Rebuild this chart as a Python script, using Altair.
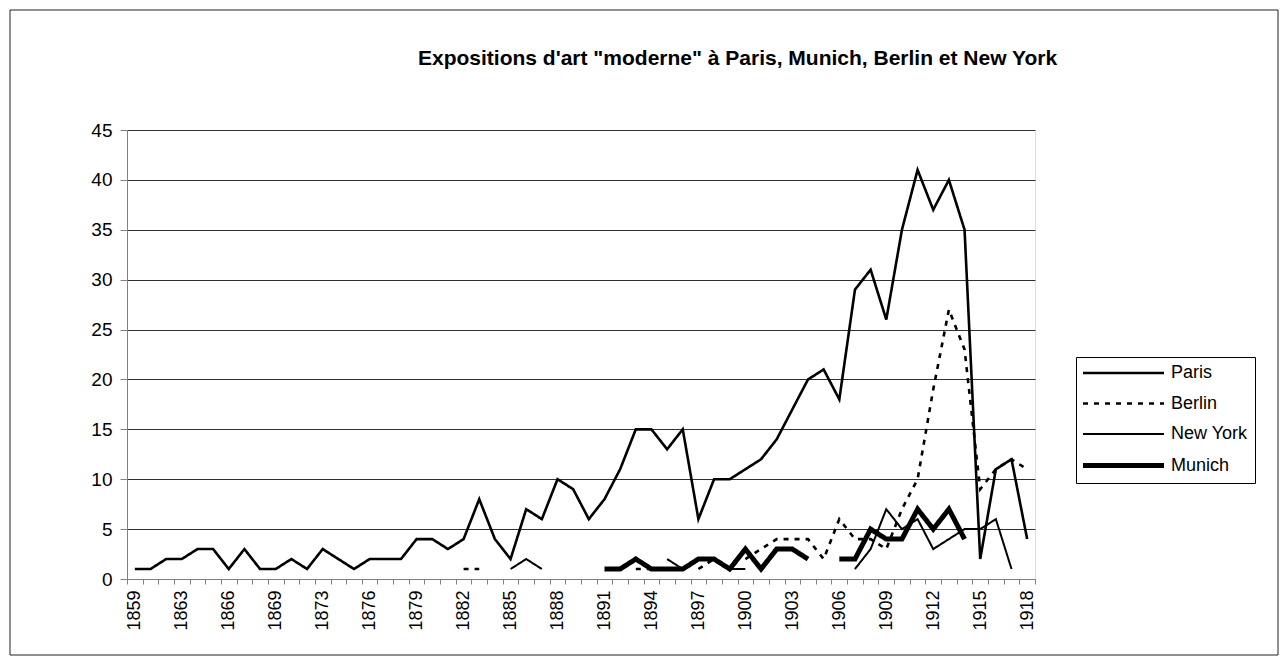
import altair as alt
import pandas as pd

N = None

# categories (58 years; 1861 and 1871 are absent from the series)
years = [1859, 1860, 1862, 1863, 1864, 1865, 1866, 1867, 1868, 1869, 1870, 1872] + list(range(1873, 1919))

label_years = [1859, 1863, 1866, 1869, 1873, 1876, 1879, 1882, 1885, 1888,
               1891, 1894, 1897, 1900, 1903, 1906, 1909, 1912, 1915, 1918]

series_names = ["Paris", "Berlin", "New York", "Munich"]

paris = [1, 1, 2, 2, 3, 3, 1, 3, 1, 1,
         2, 1, 3, 2, 1, 2, 2, 2, 4, 4,
         3, 4, 8, 4, 2, 7, 6, 10, 9, 6,
         8, 11, 15, 15, 13, 15, 6, 10, 10, 11,
         12, 14, 17, 20, 21, 18, 29, 31, 26, 35,
         41, 37, 40, 35, 2, 11, 12, 4]

berlin = [N, N, N, N, N, N, N, N, N, N,
          N, N, N, N, N, N, N, N, N, N,
          N, 1, 1, N, N, N, N, N, N, N,
          N, N, 1, 1, N, N, 1, 2, N, 2,
          3, 4, 4, 4, 2, 6, 4, 4, 3, 7,
          10, 19, 27, 23, 9, 11, 12, 11]

newyork = [N, N, N, N, N, N, N, N, N, N,
           N, N, N, N, N, N, N, N, N, N,
           N, N, N, N, 1, 2, 1, N, N, N,
           N, N, N, N, 2, 1, 2, 2, 1, 1,
           N, N, N, N, N, N, 1, 3, 7, 5,
           6, 3, 4, 5, 5, 6, 1, N]

munich = [N, N, N, N, N, N, N, N, N, N,
          N, N, N, N, N, N, N, N, N, N,
          N, N, N, N, N, N, N, N, N, N,
          1, 1, 2, 1, 1, 1, 2, 2, 1, 3,
          1, 3, 3, 2, N, 2, 2, 5, 4, 4,
          7, 5, 7, 4, N, N, N, N]

title_text = "Expositions d'art \"moderne\" à Paris, Munich, Berlin et New York"

# build long table, splitting each series into runs of consecutive values
rows = []
for name, vals in zip(series_names, [paris, berlin, newyork, munich]):
    seg = 0
    prev = None
    for yr, v in zip(years, vals):
        if v is None:
            if prev is not None:
                seg += 1
            prev = None
            continue
        rows.append({"year": yr, "value": v, "series": name, "seg": f"{name}-{seg}"})
        prev = v
df = pd.DataFrame(rows)

FONT = "Liberation Sans"
label_expr = ("indexof([" + ",".join(str(y) for y in label_years) +
              "], datum.value) >= 0 ? datum.label : ''")

legend = alt.Legend(
    title=None, orient="none", legendX=949, legendY=227,
    symbolType="M-9,0H72", symbolSize=4, symbolStrokeColor="black",
    labelFont=FONT, labelFontSize=18, labelColor="black", labelOffset=70,
    padding=7, rowPadding=12.5, strokeColor="black", fillColor="white",
)

lines = alt.Chart(df).mark_line(color="black").encode(
    x=alt.X(
        "year:O", bandPosition=0.5,
        scale=alt.Scale(type="band", domain=years, paddingInner=0, paddingOuter=0),
        axis=alt.Axis(
            title=None, labelAngle=-90, labelExpr=label_expr, labelOverlap=False,
            tickBand="extent", tickSize=5, labelPadding=6, labelFontSize=18,
            labelFont=FONT, labelColor="black", grid=False,
            domainColor="#808080", tickColor="#808080",
        ),
    ),
    y=alt.Y(
        "value:Q", scale=alt.Scale(domain=[0, 45], nice=False),
        axis=alt.Axis(
            title=None, values=list(range(0, 46, 5)), grid=True, gridColor="#303030",
            gridWidth=1, tickSize=7, labelPadding=8, labelFontSize=19, labelFont=FONT,
            labelColor="black", domainColor="#808080", tickColor="#808080",
        ),
    ),
    strokeDash=alt.StrokeDash(
        "series:N",
        scale=alt.Scale(domain=series_names, range=[[1, 0], [5, 6], [1, 0], [1, 0]]),
        legend=legend,
    ),
    strokeWidth=alt.StrokeWidth(
        "series:N",
        scale=alt.Scale(type="ordinal", domain=series_names, range=[2.6, 2.6, 2, 5]),
        legend=legend,
    ),
    detail="seg:N",
)

frame = alt.Chart(alt.Data(values=[{}])).mark_rect(
    fill="transparent", stroke="#202020", strokeWidth=1
).encode(
    x=alt.value(-117), x2=alt.value(1151), y=alt.value(-120), y2=alt.value(525)
)

chart = alt.layer(frame, lines).properties(
    width=908, height=449,
    padding={"left": 119, "top": 122, "right": 244, "bottom": 77},
    autosize=alt.AutoSizeParams(type="none"),
    title=alt.TitleParams(
        text=title_text, anchor="start", frame="group", dx=291, dy=76,
        offset=0, baseline="alphabetic", fontSize=21, fontWeight="bold",
        font=FONT, color="black",
    ),
).configure_view(stroke="#808080", strokeWidth=1).configure(background="white")

chart.save("out.html", embed_options={"renderer": "svg", "actions": False})
